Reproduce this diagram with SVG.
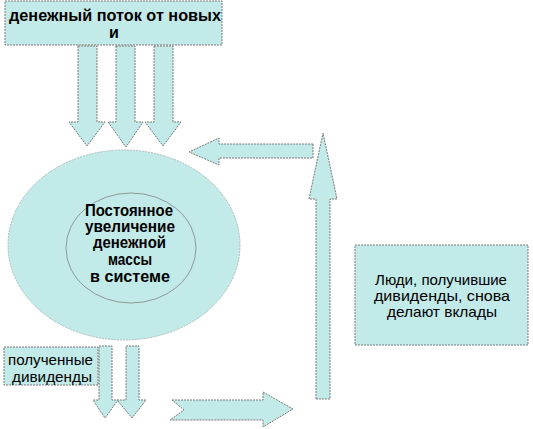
<svg xmlns="http://www.w3.org/2000/svg" width="533" height="429" viewBox="0 0 533 429">
<style>
.sh{fill:#c2eae8;stroke:#7a7a7a;stroke-width:1;stroke-dasharray:2 1}
.el{fill:#c2eae8;stroke:#a9bcbc;stroke-width:1;stroke-dasharray:2 1}
.t{font-family:"Liberation Sans",Arial,sans-serif;font-size:15px;fill:#000;text-anchor:middle}
.b{font-weight:bold;font-size:16px}
</style>
<rect width="533" height="429" fill="#fff"/>
<g id="connectors">
<path class="sh" d="M78,46 H97 V122 H105 L87,146 L69,122 H78 Z"/>
<path class="sh" d="M116,46 H135 V122 H143 L126,147 L108,122 H116 Z"/>
<path class="sh" d="M154,46 H173 V122 H181 L163,146 L145,122 H154 Z"/>
<path class="sh" d="M313,144 V158 H219 V165 L189,152 L219,138 V144 Z"/>
<path class="sh" d="M316,399 V199 H309 L323,133 L337,199 H330 V399 Z"/>
<path class="sh" d="M172,400 H263 V392 L293,409 L263,427 V420 H170 L184,410 Z"/>
<path class="sh" d="M99,346 H112 V400 H118 L105,418 L93,400 H99 Z"/>
<path class="sh" d="M126,346 H139 V400 H146 L132,418 L117,400 H126 Z"/>
</g>
<g id="top-box">
<rect class="sh" x="5" y="1" width="217" height="44"/>
<text class="t b" x="115" y="21" textLength="212" lengthAdjust="spacingAndGlyphs">денежный поток от новых</text>
<text class="t b" x="114" y="38">и</text>
</g>
<g id="money-mass">
<ellipse class="el" cx="124" cy="245" rx="116" ry="95"/>
<ellipse cx="131" cy="248" rx="65" ry="55" fill="none" stroke="#8c9a9a" stroke-width="1"/>
<text class="t b" x="129" y="216" textLength="88" lengthAdjust="spacingAndGlyphs">Постоянное</text>
<text class="t b" x="130" y="232" textLength="90" lengthAdjust="spacingAndGlyphs">увеличение</text>
<text class="t b" x="129.5" y="248" textLength="73" lengthAdjust="spacingAndGlyphs">денежной</text>
<text class="t b" x="130" y="265" textLength="44" lengthAdjust="spacingAndGlyphs">массы</text>
<text class="t b" x="130" y="282" textLength="80" lengthAdjust="spacingAndGlyphs">в системе</text>
</g>
<g id="dividends">
<rect class="sh" x="4" y="347" width="94" height="38"/>
<text class="t" x="50.5" y="365" textLength="85" lengthAdjust="spacingAndGlyphs">полученные</text>
<text class="t" x="52" y="382" textLength="80" lengthAdjust="spacingAndGlyphs">дивиденды</text>
</g>
<g id="people">
<rect class="sh" x="355" y="245" width="173" height="100"/>
<text class="t" x="441" y="285" textLength="132" lengthAdjust="spacingAndGlyphs">Люди, получившие</text>
<text class="t" x="442" y="301" textLength="136" lengthAdjust="spacingAndGlyphs">дивиденды,  снова</text>
<text class="t" x="442" y="317" textLength="110" lengthAdjust="spacingAndGlyphs">делают вклады</text>
</g>
</svg>
